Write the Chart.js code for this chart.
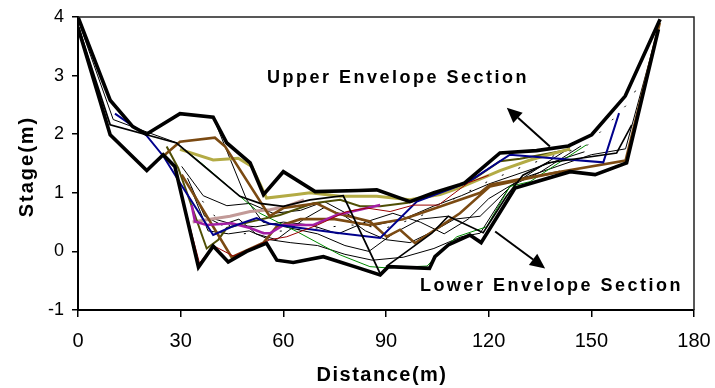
<!DOCTYPE html>
<html>
<head>
<meta charset="utf-8">
<script src="https://cdn.jsdelivr.net/npm/chart.js@4.4.1/dist/chart.umd.min.js"></script>
<style>
html,body{margin:0;padding:0;background:#fff;}
#wrap{width:715px;height:388px;position:relative;}
</style>
</head>
<body>
<div id="wrap"><canvas id="c" width="715" height="388"></canvas></div>
<script>
// ---- Data (distance m, stage m) ----
const xTicks = [0, 30, 60, 90, 120, 150, 180];
const yTicks = [-1, 0, 1, 2, 3, 4];

const upperEnvelope = [[0,4],[9.4,2.58],[16,2.13],[20,2.0],[29.8,2.35],[39.5,2.29],[43.5,1.85],[50.3,1.51],[54.2,0.97],[60,1.36],[69.3,1.02],[82,1.04],[87.3,1.05],[97,0.85],[104,1.0],[111.6,1.14],[113,1.17],[123.3,1.68],[134,1.72],[143.3,1.8],[150.1,1.99],[159.9,2.65],[170.1,3.96]];
const lowerEnvelope = [[0,3.82],[9.4,1.99],[20.1,1.38],[24.9,1.65],[28.3,1.45],[35.2,-0.27],[39.5,0.09],[43.9,-0.18],[49.3,0.0],[55.1,0.14],[58.1,-0.15],[62.9,-0.19],[71.7,-0.09],[82.4,-0.29],[88.3,-0.40],[90.7,-0.26],[102.7,-0.29],[104.3,-0.09],[108.2,0.11],[114.5,0.28],[117.8,0.15],[127.7,1.08],[143.8,1.36],[151.1,1.31],[160.3,1.51],[169.6,3.79]];
const blueSection = [[10.8,2.35],[20,1.98],[25,1.62],[30,1.15],[39.5,0.28],[44.9,0.42],[52.2,0.57],[56.1,0.47],[65,0.40],[76.6,0.31],[88.3,0.23],[99,0.85],[113.6,1.17],[126.2,1.65],[153.5,1.52],[158.1,2.36]];
const brownSectionA = [[25.4,1.65],[29.8,1.87],[40,1.94],[43,1.79],[56,0.6],[60,0.74],[69.7,0.82],[75.6,0.65],[85.3,0.51],[90.2,0.25],[94.1,0.37],[98.5,0.14],[111.6,0.65],[120.4,1.11],[129.2,1.22],[140.9,1.36]];
const brownSectionB = [[30.3,1.31],[44.9,-0.1],[54.2,0.15],[58,0.42],[65,0.55],[75,0.55],[85,0.45],[95,0.55],[105,0.75],[117.5,1.0],[120.4,1.14],[140.9,1.36],[160,1.55],[170,3.9]];
const khakiSection = [[29.8,1.74],[39.5,1.56],[46.8,1.59],[50.8,1.45],[55.1,0.91],[63.9,0.97],[67.8,1.0],[76.6,0.94],[87.3,0.94],[97,0.88],[105.8,0.97],[111.6,1.09],[123.3,1.38],[132.1,1.56],[143.8,1.75]];
const oliveSection = [[25.9,1.79],[29.3,1.42],[37.6,0.05],[41,0.2],[43.5,0.4],[50,0.5],[59,0.62],[68.8,0.82],[76.6,0.88],[82.4,0.77],[88.3,0.77],[96.4,0.83],[112.5,1.11],[123.3,1.54],[129.2,1.58],[143.8,1.74]];
const magentaSection = [[33.2,0.79],[34.2,0.51],[37.6,0.45],[44.9,0.48],[50.3,0.4],[54.2,0.31],[56.1,0.31],[60,0.45],[68.8,0.45],[75.6,0.62],[88.3,0.79]];
const pinkSection = [[33.5,0.5],[37.6,0.54],[44.4,0.6],[50.3,0.68],[56.1,0.71],[61,0.77],[66,0.88]];
const greenSection = [[29.8,1.8],[36.6,1.48],[47.3,0.94],[53.2,0.65],[63.9,0.34],[76.6,-0.06],[85.3,-0.26],[90,-0.28],[102,-0.25],[107,0.06],[110.7,0.25],[119.4,0.42],[126.2,1.11],[132.1,1.19],[148.6,1.82]];
const redSection = [[28.6,1.34],[35.5,-0.2],[39.5,0.1],[45.4,-0.08],[56.1,0.2],[61,0.25],[70,0.45],[78.5,0.68],[84.4,0.74],[91.2,0.68],[98,0.79],[105.3,0.79],[114,1.17],[120,1.3]];
const blackSectionA = [[0,3.85],[9.4,2.16],[28.8,1.85],[47.3,0.94],[53.2,0.82],[60,0.77],[67.8,0.88],[77.5,0.95],[88.3,-0.38]];
const blackSectionB = [[0,3.95],[10.3,2.25],[18.1,2.08],[29,1.85]];
const blackSectionC = [[39.5,2.29],[49.3,0.88],[54,0.5],[62,0.4],[70,0.3],[78,0.1],[85,0.0],[92,0.3],[100,0.55],[108,0.6]];
const blackSectionD = [[30.3,1.45],[36.6,0.95],[43.5,0.78],[50.3,0.82],[57,0.65],[65,0.7],[72,0.85],[80,0.6],[87,0.45],[95,0.55],[103.8,0.77],[112,0.95],[120,1.15],[130,1.35],[140,1.55],[148,1.7]];
const blackSectionE = [[32,1.25],[37,0.6],[42,0.45],[47,0.55],[52,0.3],[58,0.2],[66,0.55],[72,0.75],[78,0.6],[84,0.35],[90,0.2],[97,0.15],[104,0.35],[110,0.55],[117.5,0.6],[127,1.14],[143.8,1.77]];
const blackSectionF = [[33.5,1.0],[38,0.35],[44,0.3],[50,0.35],[56,0.2],[62,0.15],[70,0.1],[78,-0.05],[86,-0.15],[95,-0.1],[104,0.05],[112,0.25],[117.5,0.31],[126.2,1.11],[135,1.35],[147,1.8]];
const blackSectionG = [[40,0.55],[46,0.45],[52,0.42],[60,0.5],[68,0.45],[76,0.3],[84,0.5],[92,0.65],[100,0.5],[107,0.3],[114,0.55],[120,0.9],[130,1.25],[140,1.45],[150,1.65],[160,1.75],[170,3.9]];
const blackSectionH = [[90,-0.26],[103.4,0.31],[108.2,0.6],[118.4,0.32],[125.2,0.94],[130,1.3],[137,1.51],[157.4,1.68],[161.8,2.16]];
const dashedSection = [[33,1.1],[40,0.6],[48,0.3],[60,0.35],[70,0.4],[80,0.45],[90,0.4],[100,0.6],[110,0.9],[120,1.2],[130,1.45],[140,1.65],[148.6,1.8],[152.5,2.03],[156.4,2.26],[160.3,2.5],[163,2.75]];

const upperLabel = "Upper Envelope Section";
const lowerLabel = "Lower Envelope Section";
const xTitle = "Distance(m)";
const yTitle = "Stage(m)";
// annotation anchors in data units
const upperLabelAt = [55.2, 2.88];
const lowerLabelAt = [99.9, -0.67];
const upperArrow = [[137.9, 1.79], [125.3, 2.45]];
const lowerArrow = [[121.9, 0.34], [136.5, -0.29]];

const FONT = 'Arial, "Liberation Sans", sans-serif';

function ds(pts, color, width, extra) {
  return Object.assign({
    data: pts.map(p => ({x: p[0], y: p[1]})),
    borderColor: color, backgroundColor: color, borderWidth: width,
    showLine: true, pointRadius: 0, fill: false, tension: 0
  }, extra || {});
}

const datasets = [
  ds(upperEnvelope, '#000', 3.6),
  ds(lowerEnvelope, '#000', 3.6),
  ds(blackSectionA, '#000', 1.8),
  ds(blackSectionH, '#000', 1.6),
  ds(redSection, '#9a0000', 1),
  ds(blueSection, '#00008c', 2),
  ds(magentaSection, '#a31ea3', 2.6),
  ds(brownSectionA, '#7b4a12', 2.6),
  ds(brownSectionB, '#7b4a12', 2.6),
  ds(khakiSection, '#b3ab45', 3),
  ds(oliveSection, '#4f4f05', 2),
  ds(pinkSection, '#c29a98', 3),
  ds(greenSection, '#008a00', 1),
  ds(blackSectionB, '#000', 1),
  ds(blackSectionC, '#000', 1),
  ds(blackSectionD, '#000', 1),
  ds(blackSectionE, '#000', 1),
  ds(blackSectionF, '#000', 1),
  ds(blackSectionG, '#000', 1),
  ds(dashedSection, '#000', 1, {borderDash: [2, 16]})
];

const annot = {
  id: 'annot',
  afterDatasetsDraw(chart) {
    const {ctx, chartArea: a, scales: {x, y}} = chart;
    ctx.save();
    // frame top/right
    ctx.strokeStyle = '#222';
    ctx.lineWidth = 1.5;
    ctx.beginPath();
    ctx.moveTo(a.left, a.top); ctx.lineTo(a.right, a.top); ctx.lineTo(a.right, a.bottom);
    ctx.stroke();
    // arrows
    function arrow(p0, p1) {
      const x0 = x.getPixelForValue(p0[0]), y0 = y.getPixelForValue(p0[1]);
      const x1 = x.getPixelForValue(p1[0]), y1 = y.getPixelForValue(p1[1]);
      const ang = Math.atan2(y1 - y0, x1 - x0);
      const L = 15, W = 7;
      const bx = x1 - L * Math.cos(ang), by = y1 - L * Math.sin(ang);
      ctx.strokeStyle = '#000'; ctx.lineWidth = 2;
      ctx.beginPath(); ctx.moveTo(x0, y0); ctx.lineTo(bx, by); ctx.stroke();
      ctx.fillStyle = '#000';
      ctx.beginPath();
      ctx.moveTo(x1, y1);
      ctx.lineTo(bx + W * Math.sin(ang), by - W * Math.cos(ang));
      ctx.lineTo(bx - W * Math.sin(ang), by + W * Math.cos(ang));
      ctx.closePath(); ctx.fill();
    }
    arrow(upperArrow[0], upperArrow[1]);
    arrow(lowerArrow[0], lowerArrow[1]);
    // labels
    ctx.fillStyle = '#000';
    ctx.textBaseline = 'alphabetic';
    ctx.textAlign = 'left';
    ctx.font = 'bold 18px ' + FONT;
    try { ctx.letterSpacing = '2.5px'; } catch (e) {}
    ctx.fillText(upperLabel, x.getPixelForValue(upperLabelAt[0]), y.getPixelForValue(upperLabelAt[1]));
    ctx.fillText(lowerLabel, x.getPixelForValue(lowerLabelAt[0]), y.getPixelForValue(lowerLabelAt[1]));
    // axis titles
    ctx.font = 'bold 20px ' + FONT;
    try { ctx.letterSpacing = '1.5px'; } catch (e) {}
    ctx.textAlign = 'center';
    ctx.fillText(xTitle, (a.left + a.right) / 2 - 4, 380.5);
    try { ctx.letterSpacing = '2px'; } catch (e) {}
    ctx.translate(33, (a.top + a.bottom) / 2 + 3);
    ctx.rotate(-Math.PI / 2);
    ctx.fillText(yTitle, 0, 0);
    ctx.restore();
  }
};

new Chart(document.getElementById('c'), {
  type: 'scatter',
  data: {datasets},
  options: {
    responsive: false,
    animation: false,
    events: [],
    layout: {padding: {top: 17, right: 21, left: 0, bottom: 0}},
    plugins: {legend: {display: false}, tooltip: {enabled: false}, title: {display: false}},
    scales: {
      x: {
        type: 'linear', min: 0, max: 180,
        afterBuildTicks: s => { s.ticks = xTicks.map(v => ({value: v})); },
        afterFit: s => { s.height = 78; s.paddingLeft = 0; s.paddingRight = 0; },
        ticks: {color: '#000', font: {size: 20, family: FONT}, padding: 12, maxRotation: 0},
        grid: {display: true, drawOnChartArea: false, drawTicks: true, tickLength: 7, color: '#000', lineWidth: 1.5},
        border: {display: true, color: '#000', width: 2}
      },
      y: {
        type: 'linear', min: -1, max: 4,
        afterBuildTicks: s => { s.ticks = yTicks.map(v => ({value: v})); },
        afterFit: s => { s.width = 78; s.paddingTop = 0; s.paddingBottom = 0; },
        ticks: {color: '#000', font: {size: 18, family: FONT}, padding: 8},
        grid: {display: true, drawOnChartArea: false, drawTicks: true, tickLength: 6, color: '#000', lineWidth: 1.5},
        border: {display: true, color: '#000', width: 2}
      }
    }
  },
  plugins: [annot]
});
</script>
</body>
</html>
